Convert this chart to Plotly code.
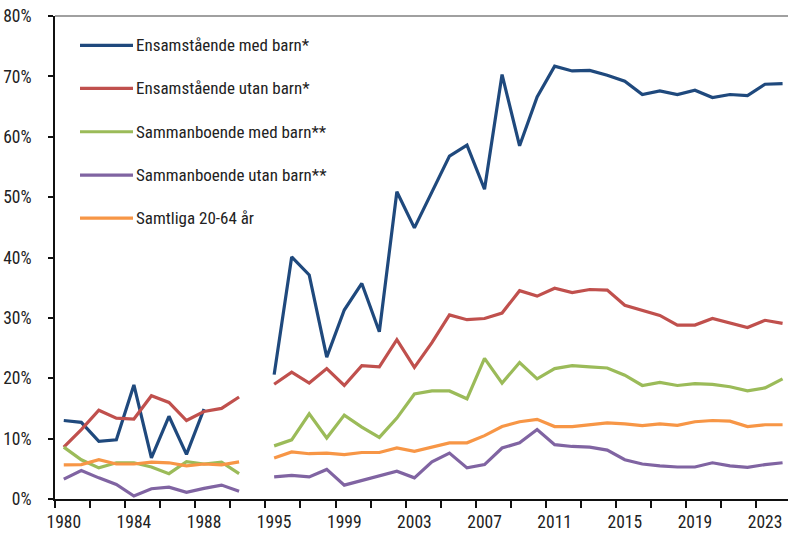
import plotly.graph_objs as go

# kategorier: 1980-1990, ett tomt glapp, 1995-2024
years = [str(y) for y in range(1980, 1991)] + [""] + [str(y) for y in range(1995, 2025)]

ens_med_barn = [13.0, 12.7, 9.55, 9.8, 18.9, 6.8, 13.7, 7.4, 14.9, None, None, None,
                20.6, 40.1, 37.1, 23.5, 31.3, 35.7, 27.7, 50.9, 44.9, 51.0, 56.8, 58.6, 51.3, 70.3, 58.5,
                66.6, 71.7, 70.9, 71.0, 70.2, 69.2, 67.0, 67.6, 67.0, 67.7, 66.5, 67.0, 66.8, 68.7, 68.8]
ens_utan_barn = [8.6, 11.5, 14.7, 13.4, 13.25, 17.1, 16.0, 13.0, 14.5, 15.0, 16.9, None,
                 19.0, 21.0, 19.2, 21.6, 18.8, 22.1, 21.9, 26.4, 21.8, 25.9, 30.5, 29.7, 29.9, 30.8, 34.5,
                 33.6, 34.9, 34.2, 34.7, 34.6, 32.1, 31.2, 30.4, 28.8, 28.8, 29.9, 29.1, 28.4, 29.6, 29.1]
samm_med_barn = [8.6, 6.5, 5.15, 6.0, 6.0, 5.3, 4.2, 6.2, 5.8, 6.1, 4.2, None,
                 8.8, 9.8, 14.1, 10.1, 13.9, 11.9, 10.2, 13.4, 17.4, 17.9, 17.9, 16.6, 23.3, 19.2, 22.6,
                 19.9, 21.6, 22.1, 21.9, 21.7, 20.5, 18.8, 19.3, 18.8, 19.1, 19.0, 18.6, 17.9, 18.4, 19.9]
samm_utan_barn = [3.3, 4.7, 3.5, 2.4, 0.5, 1.7, 1.95, 1.1, 1.75, 2.3, 1.3, None,
                  3.65, 3.9, 3.65, 4.9, 2.3, 3.05, 3.9, 4.6, 3.5, 6.15, 7.6, 5.15, 5.7, 8.45, 9.3,
                  11.5, 9.0, 8.7, 8.6, 8.1, 6.5, 5.8, 5.5, 5.3, 5.3, 6.0, 5.5, 5.25, 5.7, 6.0]
samtliga = [5.65, 5.7, 6.5, 5.8, 5.8, 6.1, 6.0, 5.5, 5.8, 5.65, 6.15, None,
            6.8, 7.8, 7.5, 7.6, 7.35, 7.7, 7.7, 8.45, 7.9, 8.6, 9.3, 9.3, 10.5, 12.0, 12.8,
            13.2, 12.0, 12.0, 12.3, 12.6, 12.45, 12.15, 12.45, 12.2, 12.8, 13.0, 12.9, 12.0, 12.3, 12.3]

names = ["Ensamstående med barn*", "Ensamstående utan barn*", "Sammanboende med barn**",
         "Sammanboende utan barn**", "Samtliga 20-64 år"]
colors = ["#1F497D", "#C0504D", "#9BBB59", "#8064A2", "#F79646"]
series = [ens_med_barn, ens_utan_barn, samm_med_barn, samm_utan_barn, samtliga]

label_years = ["1980", "1984", "1988", "1995", "1999", "2003", "2007", "2011", "2015", "2019", "2023"]

FONT = "Roboto Condensed, Liberation Sans Narrow, DejaVu Sans Condensed, sans-serif"
W, H = 788, 534
L, R, T, B = 55, 0, 15.5, 34.5

x = list(range(len(years)))
fig = go.Figure()
for name, color, vals in zip(names, colors, series):
    fig.add_trace(go.Scatter(x=x, y=[v / 100 if v is not None else None for v in vals],
                             mode="lines", name=name, connectgaps=False, showlegend=False,
                             line=dict(color=color, width=3.2)))

fig.update_layout(
    width=W, height=H,
    margin=dict(l=L, r=R, t=T, b=B, pad=0),
    plot_bgcolor="white", paper_bgcolor="white",
    font=dict(family=FONT, size=17.5, color="#222222"),
)
fig.update_xaxes(
    range=[-0.5, 41.31], showgrid=False, zeroline=False,
    showline=True, linecolor="#111111", linewidth=2,
    tickmode="array", tickvals=[years.index(y) for y in label_years], ticktext=label_years,
    ticks="", ticklabelstandoff=6,
    minor=dict(tickmode="linear", tick0=-0.5, dtick=2, ticks="outside", ticklen=7,
               tickwidth=1.5, tickcolor="#111111", showgrid=False),
)
fig.update_yaxes(
    range=[0, 0.8], dtick=0.1, tickformat=".0%", showgrid=False, zeroline=False,
    showline=True, linecolor="#111111", linewidth=2,
    ticks="outside", ticklen=5, tickwidth=1.5, tickcolor="#111111", ticklabelstandoff=13,
)

# ram upptill
fig.add_shape(type="line", xref="paper", yref="paper", x0=0, x1=1, y0=1, y1=1,
              line=dict(color="#808080", width=1.5))

# egen förklaring
pw = W - L - R
ph = H - T - B
rows = [45, 88, 131.5, 175, 218]
for name, color, py in zip(names, colors, rows):
    yp = (H - B - py) / ph
    fig.add_shape(type="line", xref="paper", yref="paper",
                  x0=(80 - L) / pw, x1=(133 - L) / pw, y0=yp, y1=yp,
                  line=dict(color=color, width=3.2))
    fig.add_annotation(xref="paper", yref="paper", x=(134 - L) / pw, y=yp,
                       text=name, showarrow=False, xanchor="left", yanchor="middle",
                       font=dict(family=FONT, size=17, color="#222222"))

fig.write_html("out.html", config={"displayModeBar": False},
               post_script="document.body.style.margin='0';")
